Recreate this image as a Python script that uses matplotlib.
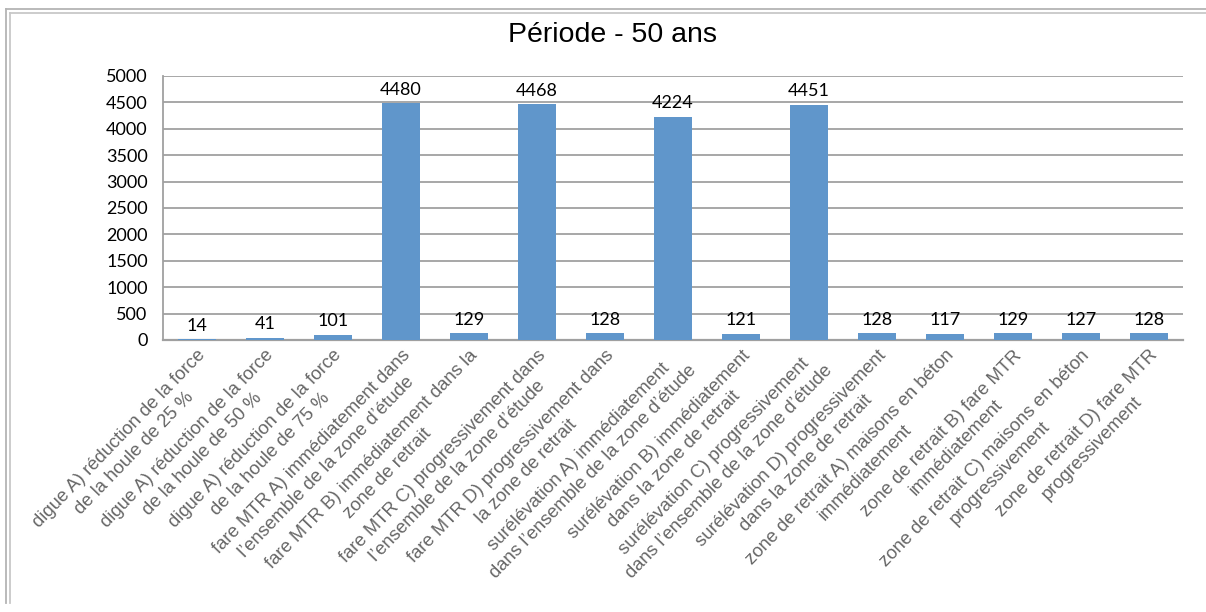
import matplotlib
matplotlib.use("Agg")
import matplotlib.pyplot as plt
from matplotlib.lines import Line2D

categories = [
    "digue A) réduction de la force\nde la houle de 25 %",
    "digue A) réduction de la force\nde la houle de 50 %",
    "digue A) réduction de la force\nde la houle de 75 %",
    "fare MTR A) immédiatement dans\nl’ensemble de la zone d’étude",
    "fare MTR B) immédiatement dans la\nzone de retrait",
    "fare MTR C) progressivement dans\nl’ensemble de la zone d’étude",
    "fare MTR D) progressivement dans\nla zone de retrait",
    "surélévation A) immédiatement\ndans l’ensemble de la zone d’étude",
    "surélévation B) immédiatement\ndans la zone de retrait",
    "surélévation C) progressivement\ndans l’ensemble de la zone d’étude",
    "surélévation D) progressivement\ndans la zone de retrait",
    "zone de retrait A) maisons en béton\nimmédiatement",
    "zone de retrait B) fare MTR\nimmédiatement",
    "zone de retrait C) maisons en béton\nprogressivement",
    "zone de retrait D) fare MTR\nprogressivement",
]
values = [14, 41, 101, 4480, 129, 4468, 128, 4224, 121, 4451, 128, 117, 129, 127, 128]
y_ticks = [0, 500, 1000, 1500, 2000, 2500, 3000, 3500, 4000, 4500, 5000]
title = "Période - 50 ans"

W, H = 1206, 612
fig = plt.figure(figsize=(W / 100, H / 100), dpi=100)
fig.patch.set_facecolor("white")

# double frame around the chart area
for x0, y0, c in [(6, 9, "#b4b4b4"), (9.5, 12.5, "#c8c8c8")]:
    fig.add_artist(Line2D([x0 / W, x0 / W], [1 - y0 / H, 1 - 603 / H],
                          transform=fig.transFigure, color=c, lw=1.3))
    fig.add_artist(Line2D([x0 / W, 1.0], [1 - y0 / H, 1 - y0 / H],
                          transform=fig.transFigure, color=c, lw=1.3))

left, right, top, bottom = 163, 1183, 76, 340
ax = fig.add_axes([left / W, 1 - bottom / H, (right - left) / W, (bottom - top) / H])

x = list(range(len(values)))
bars = ax.bar(x, values, width=0.56, color="#6096CB", zorder=3)

ax.set_xlim(-0.5, len(values) - 0.5)
ax.set_ylim(0, 5000)
ax.set_yticks(y_ticks)
ax.set_yticklabels([str(v) for v in y_ticks], fontfamily="Lato", fontsize=13, color="black")
ax.yaxis.grid(True, color="#a0a0a0", linewidth=1.3, zorder=0)
ax.set_axisbelow(True)

for side in ["top", "right"]:
    ax.spines[side].set_visible(False)
ax.spines["left"].set_color("#a0a0a0")
ax.spines["left"].set_linewidth(1.3)
ax.spines["bottom"].set_color("#a0a0a0")
ax.spines["bottom"].set_linewidth(1.6)
ax.tick_params(axis="y", length=0, pad=11)
ax.tick_params(axis="x", length=0, pad=5)

ax.set_xticks(x)
ax.set_xticklabels(categories, rotation=46, ha="right", va="top",
                   rotation_mode="anchor", multialignment="center",
                   fontfamily="Liberation Sans", fontsize=13.3, color="#666666",
                   linespacing=1.3)

for rect, v in zip(bars, values):
    ax.annotate(str(v), (rect.get_x() + rect.get_width() / 2, v),
                xytext=(0, 4), textcoords="offset points",
                ha="center", va="bottom", fontfamily="Lato", fontsize=13, color="black")

fig.text(613 / W, 1 - 41.5 / H, title, ha="center", va="baseline",
         fontfamily="Liberation Sans", fontsize=20.5, color="black")

fig.savefig("out.png", dpi=100)
